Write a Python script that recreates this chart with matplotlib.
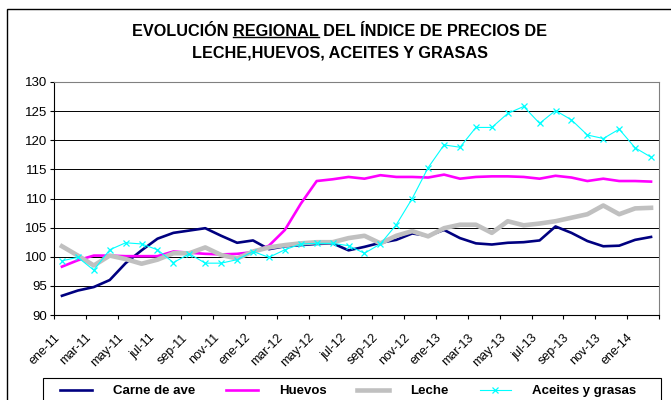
import matplotlib.pyplot as plt
import matplotlib.transforms as mtransforms
from matplotlib.patches import Rectangle
from matplotlib.lines import Line2D

plt.rcParams['font.family'] = ['Liberation Sans', 'DejaVu Sans']

meses = ["ene-11", "feb-11", "mar-11", "abr-11", "may-11", "jun-11", "jul-11", "ago-11",
         "sep-11", "oct-11", "nov-11", "dic-11", "ene-12", "feb-12", "mar-12", "abr-12",
         "may-12", "jun-12", "jul-12", "ago-12", "sep-12", "oct-12", "nov-12", "dic-12",
         "ene-13", "feb-13", "mar-13", "abr-13", "may-13", "jun-13", "jul-13", "ago-13",
         "sep-13", "oct-13", "nov-13", "dic-13", "ene-14", "feb-14"]

carne = [93.3, 94.2, 94.8, 96.0, 98.9, 101.1, 103.1, 104.1, 104.5, 104.9,
         103.6, 102.4, 102.8, 101.3, 101.8, 102.0, 102.2, 102.3, 101.1, 101.7,
         102.4, 102.9, 104.0, 103.6, 104.6, 103.2, 102.3, 102.1, 102.4, 102.5,
         102.8, 105.2, 104.1, 102.7, 101.8, 101.9, 102.9, 103.4]
huevos = [98.3, 99.4, 100.2, 100.2, 100.1, 100.1, 100.1, 100.9, 100.7, 100.5,
          100.4, 100.5, 100.8, 101.9, 104.6, 109.1, 113.0, 113.3, 113.7, 113.4,
          114.0, 113.7, 113.7, 113.6, 114.1, 113.4, 113.7, 113.8, 113.8, 113.7,
          113.4, 113.9, 113.6, 113.0, 113.4, 113.0, 113.0, 112.9]
leche = [101.8, 100.2, 98.5, 100.2, 99.6, 98.8, 99.5, 100.6, 100.6, 101.6,
         100.3, 99.7, 100.9, 101.6, 102.0, 102.3, 102.5, 102.5, 103.2, 103.6,
         102.3, 103.6, 104.4, 103.5, 104.9, 105.5, 105.5, 104.1, 106.1, 105.4,
         105.7, 106.1, 106.7, 107.3, 108.8, 107.3, 108.3, 108.4]
aceites = [99.3, 99.9, 97.7, 101.2, 102.4, 102.2, 101.2, 99.0, 100.5, 98.9,
           98.9, 99.5, 100.9, 99.9, 101.2, 102.2, 102.3, 102.3, 101.9, 100.6,
           102.2, 105.5, 110.0, 115.3, 119.2, 118.8, 122.2, 122.2, 124.6, 125.8,
           122.9, 125.1, 123.5, 120.9, 120.3, 121.9, 118.7, 117.1]

W, H = 671, 400
fig = plt.figure(figsize=(W / 100, H / 100), dpi=100)
fig.patch.set_facecolor("white")

# outer chart frame
fig.patches.append(Rectangle((7 / W, -0.1), 1.2, 1 - 9 / H + 0.1, transform=fig.transFigure,
                             fill=False, edgecolor="black", linewidth=1.0))

ax = fig.add_axes([54 / W, 1 - 315 / H, (659 - 54) / W, (315 - 82) / H])
x = list(range(len(meses)))

ax.plot(x, carne, color="#000080", lw=1.9, label="Carne de ave", zorder=3)
ax.plot(x, huevos, color="#FF00FF", lw=1.9, label="Huevos", zorder=4)
ax.plot(x, leche, color="#C0C0C0", lw=3.3, label="Leche", zorder=5)
ax.plot(x, aceites, color="#00FFFF", lw=0.8, marker="x", ms=5, mew=0.9,
        label="Aceites y grasas", zorder=6)

ax.set_xlim(-0.5, len(meses) - 0.5)
ax.set_ylim(90, 130)
ax.set_yticks(range(90, 131, 5))
ax.yaxis.grid(True, color="black", lw=0.7)
ax.set_axisbelow(True)

# tick marks between categories, labels on every second month
ax.set_xticks([i - 0.5 for i in range(0, len(meses) + 1, 2)])
ax.set_xticklabels([])
ax.set_xticks(x[::2], minor=True)
ax.set_xticklabels(meses[::2], minor=True, rotation=45, ha="right", va="center",
                   rotation_mode="anchor", fontsize=9)
ax.tick_params(axis="x", which="major", direction="out", length=3, width=0.8)
ax.tick_params(axis="x", which="minor", length=0, pad=15)
ax.tick_params(axis="y", direction="out", length=3, width=0.8, labelsize=9.5, pad=2)
shift = mtransforms.ScaledTranslation(-4 / 100, 0, fig.dpi_scale_trans)
for lab in ax.get_xticklabels(minor=True):
    lab.set_transform(lab.get_transform() + shift)

for side in ("top", "right"):
    ax.spines[side].set_color("#808080")
for side in ("left", "bottom"):
    ax.spines[side].set_color("black")

# title with underlined word
tsize = 11.7
t1 = fig.text(340 / W, 1 - 31 / H, "EVOLUCIÓN REGIONAL DEL ÍNDICE DE PRECIOS DE",
              ha="center", va="center", fontsize=tsize, fontweight="bold")
fig.text(340 / W, 1 - 53 / H, "LECHE,HUEVOS, ACEITES Y GRASAS",
         ha="center", va="center", fontsize=tsize, fontweight="bold")
fig.canvas.draw()
r = fig.canvas.get_renderer()
full = t1.get_window_extent(r)
tmp = fig.text(0, 0, "EVOLUCIÓN ", fontsize=tsize, fontweight="bold")
pre = tmp.get_window_extent(r).width
tmp.set_text("REGIONAL")
word = tmp.get_window_extent(r).width
tmp.remove()
ux0 = full.x0 + pre
uy = full.y0 + 2
fig.add_artist(Line2D([ux0 / W, (ux0 + word) / W], [uy / H, uy / H],
                      transform=fig.transFigure, color="black", lw=1.0))

# legend entries in one row, boxed by a separate frame running off the bottom
leg = fig.legend(loc="upper left", bbox_to_anchor=(60 / W, 1 - 385 / H),
                 ncol=4, frameon=False, handlelength=2.4, handletextpad=1.6,
                 columnspacing=2.35, borderpad=0, borderaxespad=0,
                 prop={"weight": "bold", "size": 9.5})
fig.patches.append(Rectangle((43 / W, -0.1), (661 - 43) / W, 1 - 378 / H + 0.1,
                             transform=fig.transFigure, fill=False,
                             edgecolor="black", linewidth=0.8))

fig.savefig("out.png", dpi=100)
